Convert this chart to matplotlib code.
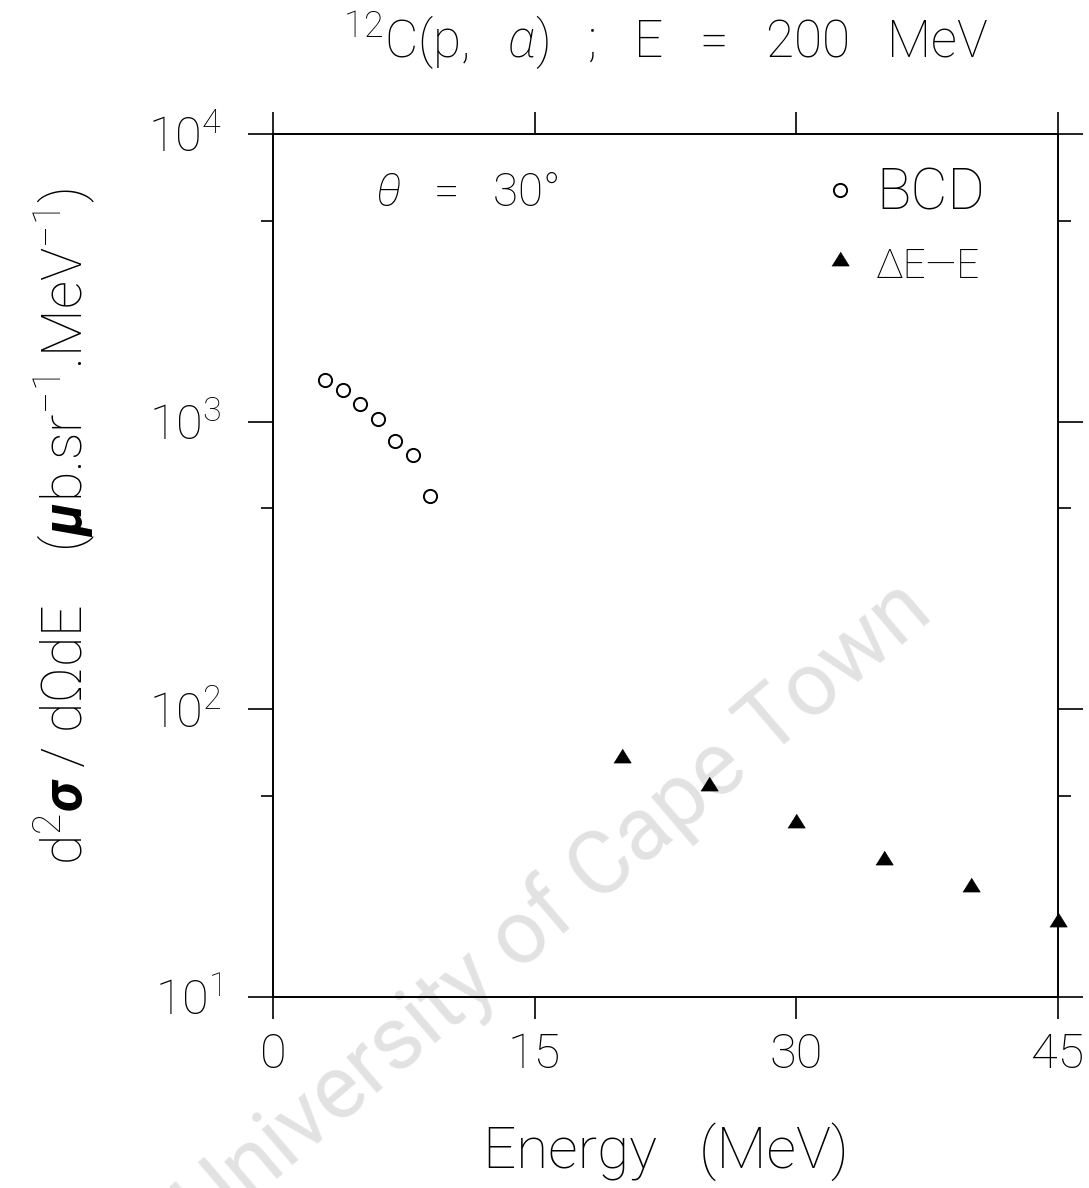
import matplotlib
matplotlib.use('Agg')
import matplotlib.pyplot as plt
from matplotlib.ticker import FixedLocator, FuncFormatter, NullFormatter
import numpy as np

# fonts: thin sans for everything, custom mathtext so greek/superscripts match
plt.rcParams['font.family'] = ['Roboto', 'DejaVu Sans']
plt.rcParams['font.weight'] = 'light'
plt.rcParams['axes.titleweight'] = 'light'
plt.rcParams['axes.labelweight'] = 'light'
plt.rcParams['mathtext.fontset'] = 'custom'
plt.rcParams['mathtext.rm'] = 'Roboto:light'
plt.rcParams['mathtext.it'] = 'Roboto:italic:light'
plt.rcParams['mathtext.bf'] = 'Roboto:bold'
plt.rcParams['mathtext.bfit'] = 'Roboto:italic:bold'
plt.rcParams['mathtext.sf'] = 'Roboto:light'

# BCD spectrum (open circles)
bcd_energy = [3, 4, 5, 6, 7, 8, 9]
bcd_xsec = [1400, 1290, 1150, 1020, 860, 765, 550]

# Delta E - E telescope spectrum (filled triangles)
dee_energy = [20, 25, 30, 35, 40, 45]
dee_xsec = [69, 55, 41, 30.5, 24.5, 18.5]

x_ticks = [0, 15, 30, 45]
y_major = [1e1, 1e2, 1e3, 1e4]
y_minor = [5e1, 5e2, 5e3]

fig = plt.figure(figsize=(10.89, 11.88), dpi=100)
ax = fig.add_axes([0.2507, 0.1608, 0.7208, 0.7264])
ax.set_zorder(1)
ax.patch.set_visible(False)

# watermark behind the axes
fig.text(0.51, 0.235, 'University of Cape Town', fontsize=64, color='#e2e2e2',
         rotation=40.5, ha='center', va='center', fontweight='normal',
         zorder=0)

tri = [(-1, -0.75), (1, -0.75), (0, 0.85)]
ax.plot(bcd_energy, bcd_xsec, ls='none', marker='o', ms=9.5, mfc='white',
        mec='black', mew=1.4, label='BCD', clip_on=False)
ax.plot(dee_energy, dee_xsec, ls='none', marker=tri, ms=12.5, mfc='black',
        mec='black', mew=0.5, label='ΔE—E', clip_on=False)

ax.set_yscale('log')
ax.set_xlim(0, 45)
ax.set_ylim(10, 1e4)

ax.xaxis.set_major_locator(FixedLocator(x_ticks))
ax.yaxis.set_major_locator(FixedLocator(y_major))
ax.yaxis.set_minor_locator(FixedLocator(y_minor))
ax.yaxis.set_major_formatter(FuncFormatter(lambda v, p: r'$10^{%d}$' % round(np.log10(v))))
ax.yaxis.set_minor_formatter(NullFormatter())

for sp in ax.spines.values():
    sp.set_linewidth(1.4)

ax.tick_params(axis='x', which='major', direction='out', top=True, length=16,
               width=1.2, pad=9, labelsize=35)
ax.tick_params(axis='y', which='major', direction='out', right=True, length=18,
               width=1.2, pad=19, labelsize=35)
ax.tick_params(axis='y', which='minor', direction='out', right=True, length=9,
               width=1.2)

ax.set_title(r'$^{12}$C(p,   $\alpha$)   ;   E   =   200   MeV', fontsize=37, pad=55)
ax.set_xlabel('Energy   (MeV)', fontsize=42)
ax.xaxis.set_label_coords(0.5, -0.145)
ax.set_ylabel(r'd$^2\boldsymbol{\sigma}$ / d$\Omega$dE    ($\boldsymbol{\mu}$b.sr$^{-1}$.MeV$^{-1}$)',
              fontsize=40)
ax.yaxis.set_label_coords(-0.224, 0.545)

ax.text(0.13, 0.9316, r'$\theta$   =   30°', transform=ax.transAxes, fontsize=33,
        ha='left', va='center')

leg = ax.legend(loc='upper left', bbox_to_anchor=(0.7006, 0.9623), frameon=False,
                fontsize=41, handlelength=0.6, handletextpad=0.33,
                labelspacing=0.3, borderpad=0, borderaxespad=0)
leg.get_texts()[1].set_fontsize(29)

fig.savefig('out.png', dpi=100)
